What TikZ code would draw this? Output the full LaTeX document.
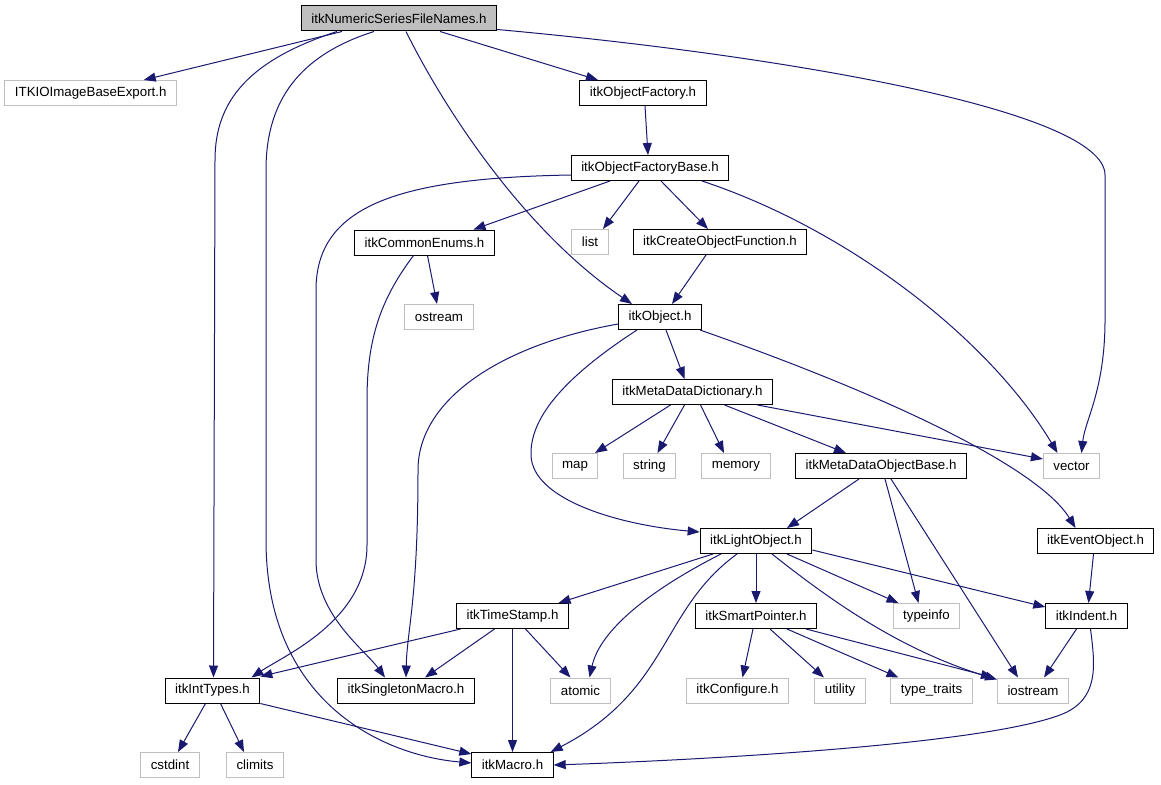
\documentclass[tikz,border=0pt]{standalone}
\usepackage{fontspec}
\setmainfont{Liberation Sans}
\usepackage{tikz}
\usetikzlibrary{arrows.meta}
\definecolor{depblue}{HTML}{191970}
\definecolor{sysgray}{HTML}{BFBFBF}
\tikzset{
  file/.style={draw=black,line width=1pt,fill=white,minimum height=25pt,inner xsep=10pt,inner ysep=2pt,font=\fontsize{13.3}{15}\selectfont},
  sysfile/.style={file,draw=sysgray},
  topfile/.style={file,fill=sysgray},
  dep/.style={-{Triangle[length=12pt,width=9pt]},depblue,line width=1pt}
}
\begin{document}
\begin{tikzpicture}[x=1pt,y=-1pt]
\useasboundingbox (0,0) rectangle (1161,784);
\node[topfile] (nsfn) at (399,18.5) {itkNumericSeriesFileNames.h};
\node[sysfile] (ioexp) at (90.7,93) {ITKIOImageBaseExport.h};
\node[file] (objfac) at (643,93) {itkObjectFactory.h};
\node[file] (objfacbase) at (650,168) {itkObjectFactoryBase.h};
\node[file] (enums) at (424.5,242.5) {itkCommonEnums.h};
\node[sysfile] (list) at (590,242) {list};
\node[file] (createfn) at (720,242) {itkCreateObjectFunction.h};
\node[sysfile] (ostream) at (439,317) {ostream};
\node[file] (object) at (660,317) {itkObject.h};
\node[file] (mdd) at (692.5,392) {itkMetaDataDictionary.h};
\node[sysfile] (map) at (575,466) {map};
\node[sysfile] (string) at (649.5,466) {string};
\node[sysfile] (memory) at (736,466) {memory};
\node[file] (mdob) at (881,466) {itkMetaDataObjectBase.h};
\node[sysfile] (vector) at (1071.5,466) {vector};
\node[file] (light) at (756,541) {itkLightObject.h};
\node[file] (event) at (1095.5,541) {itkEventObject.h};
\node[file] (timestamp) at (512.5,616) {itkTimeStamp.h};
\node[file] (smartptr) at (756,616) {itkSmartPointer.h};
\node[sysfile] (typeinfo) at (926.5,616) {typeinfo};
\node[file] (indent) at (1086.5,616) {itkIndent.h};
\node[file] (inttypes) at (212.5,690.5) {itkIntTypes.h};
\node[file] (singleton) at (406,690.5) {itkSingletonMacro.h};
\node[sysfile] (atomic) at (580.5,690.5) {atomic};
\node[sysfile] (configure) at (737.5,690.5) {itkConfigure.h};
\node[sysfile] (utility) at (840,690.5) {utility};
\node[sysfile] (typetraits) at (931.5,690.5) {type\_traits};
\node[sysfile] (iostream) at (1033,690.5) {iostream};
\node[sysfile] (cstdint) at (170,765) {cstdint};
\node[sysfile] (climits) at (255,765) {climits};
\node[file] (macro) at (512.5,765) {itkMacro.h};

\draw[dep] ([xshift=-57]nsfn.south) -- ([xshift=53]ioexp.north);
\draw[dep] ([xshift=41]nsfn.south) -- ([xshift=-45]objfac.north);
\draw[dep] ([yshift=2]nsfn.south east) .. controls (780,55) and (1105,110) .. (1105,175) -- (1105,320) .. controls (1105,390) and (1085,420) .. ([xshift=10]vector.north);
\draw[dep] ([xshift=-62]nsfn.south) .. controls (250,60) and (215,100) .. (215,160) -- ([xshift=1]inttypes.north);
\draw[dep] ([xshift=-25]nsfn.south) .. controls (300,55) and (266,100) .. (266,170) -- (266,540) .. controls (266,700) and (380,755) .. ([yshift=2]macro.west);
\draw[dep] ([xshift=7]nsfn.south) .. controls (450,120) and (530,235) .. ([xshift=-28]object.north);

\draw[dep] ([xshift=2]objfac.south) -- ([xshift=-2]objfacbase.north);
\draw[dep] ([xshift=-40]objfacbase.south) -- ([xshift=49]enums.north);
\draw[dep] ([xshift=-11]objfacbase.south) -- ([xshift=13]list.north);
\draw[dep] ([xshift=11]objfacbase.south) -- ([xshift=-12]createfn.north);
\draw[dep] ([xshift=52]objfacbase.south) .. controls (850,230) and (990,340) .. ([xshift=-14]vector.north);
\draw[dep] ([yshift=-7]objfacbase.west) .. controls (400,178) and (316,205) .. (316,290) -- (316,560) .. controls (316,615) and (365,650) .. ([xshift=-21]singleton.north);

\draw[dep] ([xshift=3]enums.south) -- ([xshift=-2]ostream.north);
\draw[dep] ([xshift=-11]enums.south) .. controls (380,300) and (367,340) .. (367,400) -- (367,545) .. controls (367,620) and (285,655) .. ([xshift=39]inttypes.north);
\draw[dep] ([xshift=-14]createfn.south) -- ([xshift=12]object.north);

\draw[dep] ([xshift=6]object.south) -- ([xshift=-8]mdd.north);
\draw[dep] ([yshift=-7]object.west) .. controls (500,345) and (418,400) .. (418,470) .. controls (418,600) and (407,630) .. (singleton.north);
\draw[dep] ([xshift=-23]object.south) .. controls (560,380) and (530,420) .. (531,455) .. controls (532,500) and (620,525) .. ([yshift=9]light.west);
\draw[dep] ([xshift=40]object.south) .. controls (900,400) and (1040,470) .. ([xshift=-20]event.north);

\draw[dep] ([xshift=-22]mdd.south) -- ([xshift=20]map.north);
\draw[dep] ([xshift=-8]mdd.south) -- ([xshift=8]string.north);
\draw[dep] ([xshift=8]mdd.south) -- ([xshift=-12]memory.north);
\draw[dep] ([xshift=32]mdd.south) -- ([xshift=-35]mdob.north);
\draw[dep] ([xshift=65]mdd.south) -- ([yshift=7]vector.west);

\draw[dep] ([xshift=-22]mdob.south) -- ([xshift=31]light.north);
\draw[dep] ([xshift=4]mdob.south) -- ([xshift=-8]typeinfo.north);
\draw[dep] ([xshift=10]mdob.south) -- ([xshift=-15]iostream.north);
\draw[dep] ([xshift=-2]event.south) -- ([xshift=2]indent.north);

\draw[dep] ([xshift=-43]light.south) -- ([xshift=46]timestamp.north);
\draw[dep] ([xshift=-35]light.south) .. controls (650,590) and (600,630) .. ([xshift=9]atomic.north);
\draw[dep] ([xshift=-19]light.south) .. controls (660,610) and (670,690) .. ([xshift=-3]macro.north east);
\draw[dep] (light.south) -- (smartptr.north);
\draw[dep] ([xshift=16]light.south) .. controls (830,600) and (900,650) .. ([yshift=-2]iostream.north west);
\draw[dep] ([xshift=31]light.south) -- ([xshift=-28]typeinfo.north);
\draw[dep] ([yshift=-9]light.east) -- ([yshift=9]indent.west);

\draw[dep] ([xshift=-52]timestamp.south) -- ([yshift=1]inttypes.north east);
\draw[dep] ([xshift=-18]timestamp.south) -- ([xshift=19]singleton.north);
\draw[dep] (timestamp.south) -- (macro.north);
\draw[dep] ([xshift=13]timestamp.south) -- ([xshift=-10]atomic.north);

\draw[dep] ([xshift=-3]smartptr.south) -- ([xshift=5]configure.north);
\draw[dep] ([xshift=14]smartptr.south) -- ([xshift=-16]utility.north);
\draw[dep] ([xshift=31]smartptr.south) -- ([xshift=-33]typetraits.north);
\draw[dep] ([xshift=50]smartptr.south) -- ([xshift=-4]iostream.north west);

\draw[dep] ([xshift=-10]indent.south) -- ([xshift=11]iostream.north);
\draw[dep] ([xshift=4]indent.south) .. controls (1095,665) and (1100,700) .. (1060,715) .. controls (980,745) and (700,760) .. (macro.east);

\draw[dep] ([xshift=-7]inttypes.south) -- ([xshift=8]cstdint.north);
\draw[dep] ([xshift=8]inttypes.south) -- ([xshift=-11]climits.north);
\draw[dep] (inttypes.south east) -- ([yshift=-2]macro.north west);
\end{tikzpicture}
\end{document}
